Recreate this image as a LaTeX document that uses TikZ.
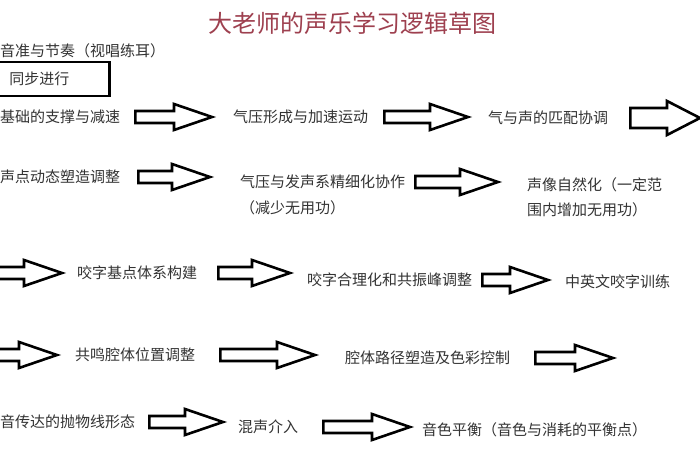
\documentclass[tikz,border=0pt]{standalone}
\usepackage{fontspec}
\usepackage{tikz}
\usetikzlibrary{calc}
\newfontfamily\cjk{Noto Sans CJK SC}
\definecolor{titlered}{rgb}{0.62, 0.25, 0.31}
\definecolor{textgray}{rgb}{0.2, 0.2, 0.2}
\tikzset{
  every node/.style={font=\cjk\fontsize{15pt}{18pt}\selectfont, text=textgray, inner sep=0pt},
  step text/.style={anchor=west},
  blockarr/.style={draw=black, line width=2.6pt, fill=white, line join=miter},
}
% outline block arrow: shaft half height, head half height, head length, start, end
\newcommand{\fatarrow}[5]{%
  \draw[blockarr] let \p1=(#4), \p2=(#5) in
    (\x1,\y1+#1) -- (\x2-#3,\y1+#1) -- (\x2-#3,\y1+#2) -- (\x2,\y1)
    -- (\x2-#3,\y1-#2) -- (\x2-#3,\y1-#1) -- (\x1,\y1-#1) -- cycle;}
\newcommand{\arr}[2]{\fatarrow{6pt}{13pt}{38pt}{#1}{#2}}

\begin{document}
\begin{tikzpicture}[x=1pt, y=-1pt]
\fill[white] (0,0) rectangle (700,470);
\useasboundingbox (0,0) rectangle (700,470);
\clip (0,0) rectangle (700,470);

\node[font=\cjk\fontsize{24pt}{28pt}\selectfont, text=titlered] (title) at (352,23) {大老师的声乐学习逻辑草图};

\node[step text] (pitch) at (0,51) {音准与节奏（视唱练耳）};
\node[draw=black, line width=2.5pt, anchor=west, minimum width=112pt, minimum height=34pt,
      inner xsep=12pt, text width=88pt, align=left] (sync) at (-4,79) {同步进行};

% row: breath
\node[step text] (b1) at (0,117) {基础的支撑与减速};
\node[step text] (b2) at (233,117) {气压形成与加速运动};
\node[step text] (b3) at (488,118) {气与声的匹配协调};
\coordinate (rim2) at (700,117);
\arr{[xshift=15pt]b1.east}{[xshift=-21pt]b2.west}
\arr{[xshift=16pt]b2.east}{[xshift=-20pt]b3.west}
\fatarrow{10pt}{17pt}{33pt}{[xshift=22pt]b3.east}{rim2}

% row: sound point
\node[step text] (s1) at (0,177) {声点动态塑造调整};
\node[step text, align=left, font=\cjk\fontsize{15pt}{26pt}\selectfont] (s2) at (240,195) {气压与发声系精细化协作\\（减少无用功）};
\node[step text, align=left, font=\cjk\fontsize{15pt}{25pt}\selectfont] (s3) at (527,197) {声像自然化（一定范\\围内增加无用功）};
\arr{[xshift=18pt]s1.east}{[xshift=-30pt,yshift=-18pt]s2.west}
\arr{[xshift=10pt,yshift=13pt]s2.east}{[xshift=-29pt]s3.west}

% row: diction
\coordinate (rim4) at (-8,273);
\node[step text] (d1) at (77,273) {咬字基点体系构建};
\node[step text] (d2) at (307,280) {咬字合理化和共振峰调整};
\node[step text] (d3) at (565,282) {中英文咬字训练};
\arr{rim4}{[xshift=-15pt]d1.west}
\arr{[xshift=21pt]d1.east}{[xshift=-17pt]d2.west}
\arr{[xshift=10pt]d2.east}{[xshift=-17pt]d3.west}

% row: resonance
\coordinate (rim5) at (-8,355);
\node[step text] (r1) at (75,355) {共鸣腔体位置调整};
\node[step text] (r2) at (345,358) {腔体路径塑造及色彩控制};
\coordinate (tail5) at (613,358);
\arr{rim5}{[xshift=-18pt]r1.west}
\arr{[xshift=25pt]r1.east}{[xshift=-30pt]r2.west}
\arr{[xshift=25pt]r2.east}{tail5}

% row: tone
\node[step text] (t1) at (0,422) {音传达的抛物线形态};
\node[step text] (t2) at (238,427) {混声介入};
\node[step text] (t3) at (422,430) {音色平衡（音色与消耗的平衡点）};
\arr{[xshift=14pt]t1.east}{[xshift=-15pt]t2.west}
\arr{[xshift=25pt]t2.east}{[xshift=-12pt]t3.west}
\end{tikzpicture}
\end{document}
